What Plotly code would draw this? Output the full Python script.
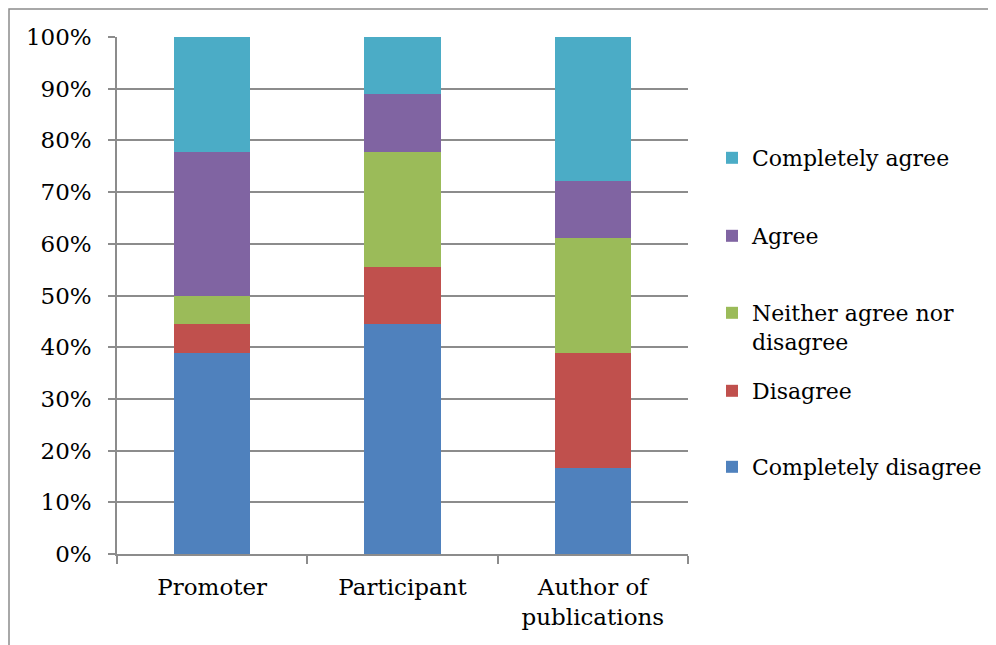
import plotly.graph_objects as go

categories = ["Promoter", "Participant", "Author of<br>publications"]
series_names = ["Completely disagree", "Disagree", "Neither agree nor<br>disagree", "Agree", "Completely agree"]
completely_disagree = [38.9, 44.4, 16.7]
disagree = [5.5, 11.2, 22.2]
neither = [5.6, 22.2, 22.2]
agree = [27.8, 11.1, 11.1]
completely_agree = [22.2, 11.1, 27.8]
series_values = [completely_disagree, disagree, neither, agree, completely_agree]
colors = ["#4F81BD", "#C0504D", "#9BBB59", "#8064A2", "#4BACC6"]
tick_vals = [0, 10, 20, 30, 40, 50, 60, 70, 80, 90, 100]
tick_text = [f"{v}%" for v in tick_vals]

FONT = "DejaVu Serif"
OFF = 8  # page body margin
W, H = 996, 645
L, T = 117 - OFF, 37 - OFF
R = W - (688 - OFF)
B = H - (554 - OFF)
pw, ph = W - L - R, H - T - B

# legend item text-centre targets (page pixels from top)
legend_y_px = [468, 392, 314, 237, 159]
legend_names = ["legend", "legend2", "legend3", "legend4", "legend5"]

fig = go.Figure()
for name, vals, col, lg in zip(series_names, series_values, colors, legend_names):
    fig.add_trace(go.Bar(x=categories, y=vals, name=name, marker=dict(color=col, line=dict(width=0)),
                         legend=lg))

layout_legends = {}
for lg, ypx in zip(legend_names, legend_y_px):
    top_fig = ypx - OFF - 22
    layout_legends[lg] = dict(
        x=(704 - L) / pw, xanchor="left",
        y=1 - (top_fig - T) / ph, yanchor="top",
        font=dict(family=FONT, size=22, color="#000"),
        bgcolor="rgba(0,0,0,0)", valign="top",
    )

fig.update_layout(
    width=W, height=H,
    margin=dict(l=L, r=R, t=T, b=B),
    barmode="stack", bargap=0.6,
    plot_bgcolor="white", paper_bgcolor="white",
    font=dict(family=FONT, size=22, color="#000"),
    showlegend=True,
    **layout_legends,
)
fig.update_yaxes(range=[0, 100], tickvals=tick_vals, ticktext=tick_text,
                 showgrid=True, gridcolor="#8C8C8C", gridwidth=1.5,
                 showline=True, linecolor="#8C8C8C", linewidth=1.5,
                 ticks="outside", ticklen=7, tickcolor="#8C8C8C", tickwidth=1.5,
                 ticklabelstandoff=12, zeroline=False,
                 tickfont=dict(family=FONT, size=23, color="#000"))
fig.update_xaxes(showline=True, linecolor="#8C8C8C", linewidth=1.5,
                 ticks="outside", tickson="boundaries", ticklen=8, tickcolor="#8C8C8C", tickwidth=1.5,
                 ticklabelstandoff=12,
                 tickfont=dict(family=FONT, size=23, color="#000"))

# outer chart border (partly outside the captured frame)
fig.add_shape(type="rect", xref="paper", yref="paper",
              x0=(1 - L) / pw, x1=(1100 - L) / pw,
              y0=1 - (700 - T) / ph, y1=1 - (1 - T) / ph,
              line=dict(color="#8C8C8C", width=1.5), fillcolor="rgba(0,0,0,0)", layer="below")

fig.write_html("out.html")
